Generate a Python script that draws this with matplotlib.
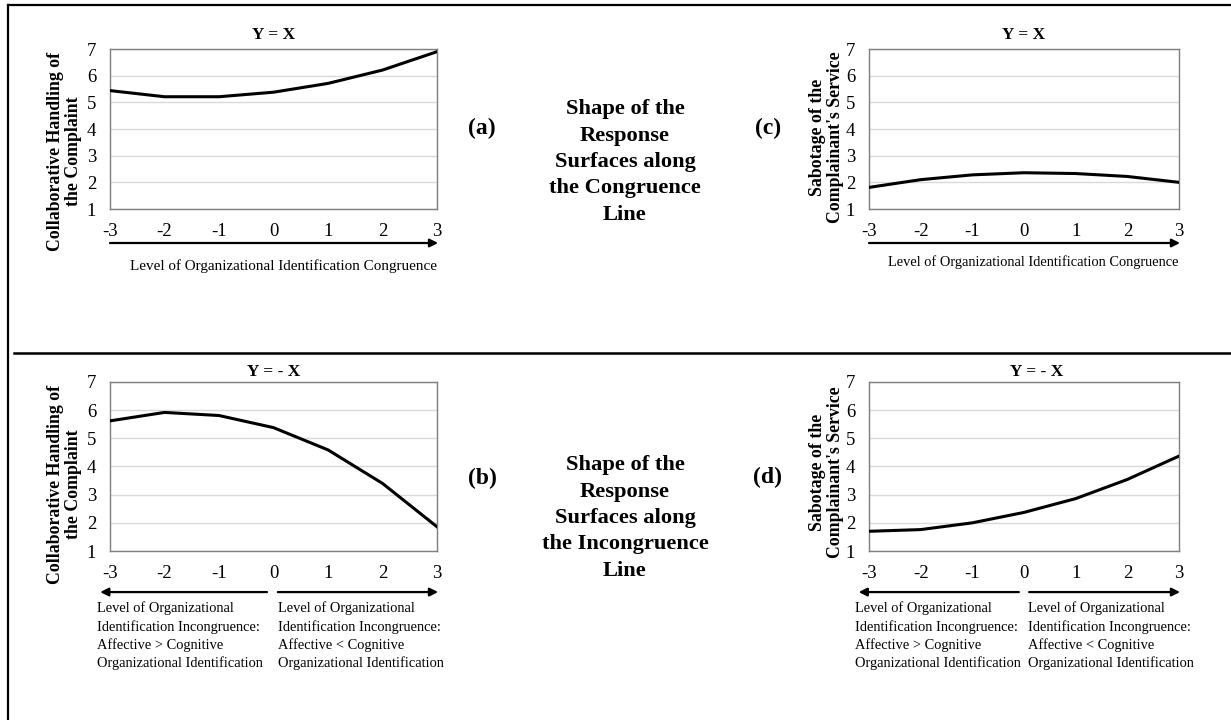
import numpy as np
import matplotlib
matplotlib.use("Agg")
import matplotlib.pyplot as plt
from matplotlib.lines import Line2D

plt.rcParams['font.family'] = ['Liberation Serif', 'DejaVu Serif']

# data
x_levels = [-3, -2, -1, 0, 1, 2, 3]
collab_congruence = [5.44, 5.21, 5.21, 5.38, 5.71, 6.21, 6.90]     # (a)
collab_incongruence = [5.62, 5.92, 5.81, 5.38, 4.59, 3.40, 1.86]   # (b)
sabotage_congruence = [1.81, 2.10, 2.28, 2.36, 2.33, 2.22, 2.00]   # (c)
sabotage_incongruence = [1.70, 1.76, 2.00, 2.37, 2.86, 3.54, 4.37] # (d)
y_ticks = [1, 2, 3, 4, 5, 6, 7]

collab_label = "Collaborative Handling of\nthe Complaint"
sabotage_label = "Sabotage of the\nComplainant's Service"
congruence_xlabel = "Level of Organizational Identification Congruence"
left_text = ("Level of Organizational\nIdentification Incongruence:\n"
             "Affective > Cognitive\nOrganizational Identification")
right_text = ("Level of Organizational\nIdentification Incongruence:\n"
              "Affective < Cognitive\nOrganizational Identification")
center_top = "Shape of the\nResponse\nSurfaces along\nthe Congruence\nLine"
center_bottom = "Shape of the\nResponse\nSurfaces along\nthe Incongruence\nLine"

W, H = 1231, 720
fig = plt.figure(figsize=(W / 100, H / 100), dpi=100)


def px_axes(x0, y0, x1, y1):
    # pixel box (top-left origin) -> figure fraction axes
    return fig.add_axes([x0 / W, 1 - y1 / H, (x1 - x0) / W, (y1 - y0) / H])


def style(ax, values, title, title_x, title_y, ylabel, ylab_x, ylab_y):
    ax.plot(x_levels, values, color='black', lw=2.2, solid_joinstyle='round', zorder=3)
    ax.set_xlim(-3, 3)
    ax.set_ylim(1, 7)
    ax.set_xticks(x_levels)
    ax.set_xticklabels([str(v) for v in x_levels])
    ax.set_yticks(y_ticks)
    ax.tick_params(length=0, labelsize=13.5, pad=10)
    ax.tick_params(axis='y', pad=10)
    ax.grid(axis='y', color='#d9d9d9', lw=1)
    ax.set_axisbelow(True)
    for s in ax.spines.values():
        s.set_color('#7f7f7f')
        s.set_linewidth(1)
    ax.text(title_x, title_y, title, transform=ax.transAxes, ha='center', va='center',
            fontsize=12.5, fontweight='bold')
    ax.text(ylab_x, ylab_y, ylabel, transform=ax.transAxes, ha='center', va='center',
            rotation=90, fontsize=12.8, fontweight='bold', linespacing=1.05)


def arrow(ax, xa, xb, y):
    tr = ax.get_xaxis_transform()
    ax.annotate('', xy=(xb, y), xytext=(xa, y), xycoords=tr, textcoords=tr,
                arrowprops=dict(arrowstyle='-|>', color='black', lw=1.6,
                                mutation_scale=12, shrinkA=0, shrinkB=0),
                annotation_clip=False)


# (a)
ax_a = px_axes(110, 49, 437, 209)
style(ax_a, collab_congruence, "Y = X", 0.5, 1.0875, collab_label, -0.14, 0.36)
arrow(ax_a, -3, 3.02, -0.2125)
ax_a.text(1.0, -0.356, congruence_xlabel, transform=ax_a.transAxes, ha='right',
          va='center', fontsize=10.9)

# (c)
ax_c = px_axes(869, 49, 1179, 209)
style(ax_c, sabotage_congruence, "Y = X", 0.5, 1.0875, sabotage_label, -0.138, 0.447)
arrow(ax_c, -3, 3.02, -0.2125)
ax_c.text(1.0, -0.331, congruence_xlabel, transform=ax_c.transAxes, ha='right',
          va='center', fontsize=10.35)

# (b)
ax_b = px_axes(110, 382, 437, 551)
style(ax_b, collab_incongruence, "Y = - X", 0.5, 1.06, collab_label, -0.14, 0.396)
arrow(ax_b, -0.12, -3.18, -0.243)
arrow(ax_b, 0.08, 3.02, -0.243)
ax_b.text(-0.04, -0.30, left_text, transform=ax_b.transAxes, ha='left', va='top',
          fontsize=10.4, linespacing=1.42)
ax_b.text(0.514, -0.30, right_text, transform=ax_b.transAxes, ha='left', va='top',
          fontsize=10.4, linespacing=1.42)

# (d)
ax_d = px_axes(869, 382, 1179, 551)
style(ax_d, sabotage_incongruence, "Y = - X", 0.542, 1.06, sabotage_label, -0.138, 0.467)
arrow(ax_d, -0.1, -3.2, -0.243)
arrow(ax_d, 0.1, 3.02, -0.243)
ax_d.text(-0.045, -0.30, left_text, transform=ax_d.transAxes, ha='left', va='top',
          fontsize=10.4, linespacing=1.42)
ax_d.text(0.513, -0.30, right_text, transform=ax_d.transAxes, ha='left', va='top',
          fontsize=10.4, linespacing=1.42)

# panel letters and centre captions
fig.text(482 / W, 1 - 128 / H, "(a)", ha='center', va='center', fontsize=17, fontweight='bold')
fig.text(768 / W, 1 - 128 / H, "(c)", ha='center', va='center', fontsize=17, fontweight='bold')
fig.text(482 / W, 1 - 478 / H, "(b)", ha='center', va='center', fontsize=17, fontweight='bold')
fig.text(768 / W, 1 - 477 / H, "(d)", ha='center', va='center', fontsize=17, fontweight='bold')
fig.text(625 / W, 1 - 162 / H, center_top, ha='center', va='center', fontsize=16.2,
         fontweight='bold', linespacing=1.43)
fig.text(625 / W, 1 - 518 / H, center_bottom, ha='center', va='center', fontsize=16.2,
         fontweight='bold', linespacing=1.43)

# outer frame lines
fig.add_artist(Line2D([8 / W, 8 / W], [1 - 5 / H, 0], color='black', lw=1.6))
fig.add_artist(Line2D([8 / W, 1], [1 - 5 / H, 1 - 5 / H], color='black', lw=1.6))
fig.add_artist(Line2D([14 / W, 1], [1 - 353 / H, 1 - 353 / H], color='black', lw=1.8))

fig.savefig("out.png", dpi=100)
